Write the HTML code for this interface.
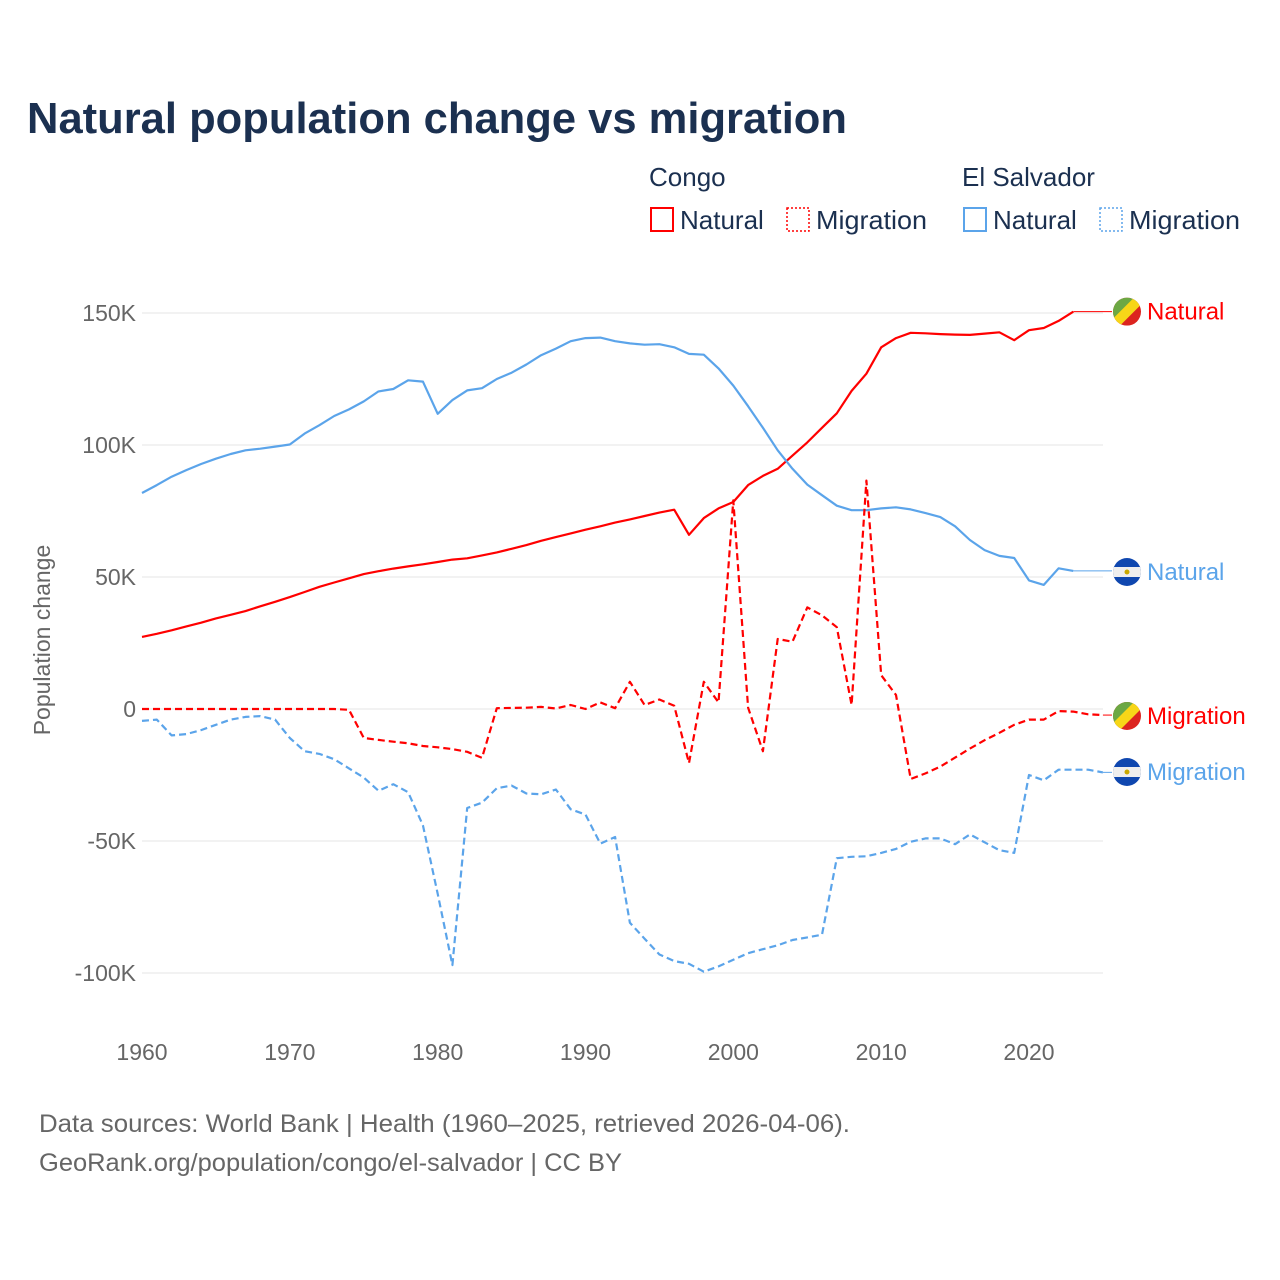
<!DOCTYPE html>
<html><head><meta charset="utf-8">
<style>
body{margin:0;background:#fff;font-family:"Liberation Sans",sans-serif;}
svg{display:block}
</style></head>
<body>
<svg id="chart" width="1280" height="1280" xmlns="http://www.w3.org/2000/svg">
<text x="27" y="133" font-size="44" font-weight="bold" fill="#1b3050" textLength="820" lengthAdjust="spacingAndGlyphs">Natural population change vs migration</text>
<g font-size="26" fill="#1b3050">
<text x="649" y="186">Congo</text>
<text x="962" y="186">El Salvador</text>
<g><rect x="651" y="208" width="22" height="23" fill="none" stroke="#ff0000" stroke-width="2"/><text x="680" y="229">Natural</text></g>
<g><rect x="787" y="208" width="22" height="23" fill="none" stroke="#ff0000" stroke-width="1.5" stroke-dasharray="2,2"/><text x="816" y="229" textLength="111" lengthAdjust="spacingAndGlyphs">Migration</text></g>
<g><rect x="964" y="208" width="22" height="23" fill="none" stroke="#5ba4ea" stroke-width="2"/><text x="993" y="229">Natural</text></g>
<g><rect x="1100" y="208" width="22" height="23" fill="none" stroke="#5ba4ea" stroke-width="1.5" stroke-dasharray="2,2"/><text x="1129" y="229" textLength="111" lengthAdjust="spacingAndGlyphs">Migration</text></g>
</g>
<g id="grid"></g>
<g id="yticks" font-size="23" fill="#666" text-anchor="end"></g>
<g id="xticks" font-size="23" fill="#666" text-anchor="middle"></g>
<text transform="translate(50,640) rotate(-90)" font-size="23" fill="#666" text-anchor="middle">Population change</text>
<g id="series"></g>
<g id="labels" font-size="24"></g>
<text x="39" y="1132" font-size="25" fill="#666" textLength="811" lengthAdjust="spacingAndGlyphs">Data sources: World Bank | Health (1960–2025, retrieved 2026-04-06).</text>
<text x="39" y="1171" font-size="25" fill="#666" textLength="583" lengthAdjust="spacingAndGlyphs">GeoRank.org/population/congo/el-salvador | CC BY</text>
</svg>
<script>
const startYear = 1960;
const congoNatural = [27.3,28.5,29.8,31.3,32.7,34.3,35.7,37.1,38.9,40.6,42.4,44.3,46.3,47.9,49.5,51.1,52.2,53.2,54.0,54.8,55.7,56.6,57.1,58.2,59.3,60.7,62.1,63.7,65.1,66.5,67.9,69.2,70.6,71.8,73.1,74.4,75.5,66.0,72.3,76.0,78.4,84.8,88.3,91.0,96.0,101,106.5,112,120.5,127,137,140.5,142.5,142.3,142,141.8,141.7,142.2,142.7,139.7,143.5,144.3,147,150.5];
const esNatural = [81.8,84.8,88,90.5,92.8,94.8,96.6,98.0,98.6,99.4,100.2,104.3,107.5,111,113.5,116.5,120.3,121.2,124.5,124,111.8,117,120.7,121.5,125,127.4,130.5,134,136.5,139.3,140.5,140.7,139.3,138.5,138,138.2,137,134.5,134.2,129,122.5,114.7,106.5,98,91,85,81,77,75.3,75.3,76,76.4,75.6,74.2,72.7,69.2,64,60.2,58,57.2,48.7,47,53.3,52.3];
const congoMigration = [0,0,0,0,0,0,0,0,0,0,0,0,0,0,-0.3,-11,-11.7,-12.4,-13,-14,-14.5,-15.2,-16.2,-18.5,0.3,0.4,0.5,0.8,0.2,1.5,0,2.5,0.3,10.3,1.5,3.6,1.2,-20.5,10.3,2.5,79,0.5,-16,26.5,25.5,38.5,35.5,31,1.5,86.5,12.8,5.3,-26.5,-24.4,-21.8,-18.4,-15,-11.8,-9,-6,-4,-4,-0.8,-1,-2,-2.3];
const esMigration = [-4.5,-4,-10,-9.5,-8,-6,-4,-3,-2.7,-4,-11,-16,-17,-19,-22.5,-26,-31,-28.5,-31.5,-44,-70,-97,-37.5,-35.5,-30,-29,-32,-32.3,-30.5,-38,-40,-51,-48.5,-81,-87,-93,-95.5,-96.5,-99.5,-97.5,-95,-92.5,-91,-89.5,-87.5,-86.5,-85.5,-56.5,-56,-55.8,-54.5,-53,-50.3,-49,-49,-51.2,-47.5,-50.5,-53.5,-54.5,-25,-27,-23,-23,-23,-24];
const yTicks = [150,100,50,0,-50,-100];
const yTickLabels = ["150K","100K","50K","0","-50K","-100K"];
const xTicks = [1960,1970,1980,1990,2000,2010,2020];

const NS = "http://www.w3.org/2000/svg";
const X = yr => 142 + (yr - 1960) * (1029 - 142) / 60;
const Y = v => 709 - v * 132 / 50;
function el(tag, attrs, parent){const e=document.createElementNS(NS,tag);for(const k in attrs)e.setAttribute(k,attrs[k]);parent.appendChild(e);return e;}

const grid=document.getElementById('grid'), yt=document.getElementById('yticks'), xt=document.getElementById('xticks');
yTicks.forEach((v,i)=>{
  const l=el('line',{x1:142,x2:1103,y1:Y(v),y2:Y(v),stroke:'#e6e6e6','stroke-width':1},grid);
  
  
  const t=el('text',{x:136,y:Y(v)+8},yt); t.textContent=yTickLabels[i];
  
  
});
xTicks.forEach(yr=>{
  const t=el('text',{x:X(yr),y:1060},xt); t.textContent=yr;
  
  
});

const series=document.getElementById('series');
function draw(data,color,dash,name){
  const pts=data.map((v,i)=>X(startYear+i).toFixed(1)+','+Y(v).toFixed(1)).join(' ');
  const p=el('polyline',{points:pts,fill:'none',stroke:color,'stroke-width':2.2,'stroke-linejoin':'round'},series);
  if(dash)p.setAttribute('stroke-dasharray',dash);
  
  
  const last=data[data.length-1], lx=X(startYear+data.length-1);
  const c=el('line',{x1:lx,x2:1112,y1:Y(last),y2:Y(last),stroke:color,'stroke-width':1},series);
  
  
  return Y(last);
}
const yCN=draw(congoNatural,'#ff0000',null,'line-congo-natural');
const yEN=draw(esNatural,'#5ba4ea',null,'line-es-natural');
const yCM=draw(congoMigration,'#ff0000','7,4','line-congo-migration');
const yEM=draw(esMigration,'#5ba4ea','7,4','line-es-migration');

const labels=document.getElementById('labels');
function flag(cy,type,name){
  const g=el('g',{},labels);
  
  
  const id='clip'+Math.round(cy);
  const cp=el('clipPath',{id:id},g); el('circle',{cx:1127,cy:cy,r:14},cp);
  const f=el('g',{'clip-path':'url(#'+id+')'},g);
  if(type==='cg'){
    el('rect',{x:1113,y:cy-14,width:28,height:28,fill:'#dc241f'},f);
    el('polygon',{points:`1113,${cy-14} 1141,${cy-14} 1113,${cy+14}`,fill:'#6ca844'},f);
    el('polygon',{points:`1134,${cy-14} 1141,${cy-14} 1141,${cy-7} 1120,${cy+14} 1113,${cy+14} 1113,${cy+7}`,fill:'#f7d618'},f);
  } else {
    el('rect',{x:1113,y:cy-14,width:28,height:28,fill:'#0f47af'},f);
    el('rect',{x:1113,y:cy-5,width:28,height:10,fill:'#eeeeee'},f);
    el('circle',{cx:1127,cy:cy,r:2.5,fill:'#c9a800'},f);
  }
}
function label(y,text,color,name){
  const t=el('text',{x:1147,y:y+8,fill:color},labels); t.textContent=text;
  
  
}
flag(yCN,'cg','flag-congo-natural'); label(yCN,'Natural','#ff0000','label-congo-natural');
flag(572,'es','flag-es-natural'); label(572,'Natural','#5ba4ea','label-es-natural');
flag(716,'cg','flag-congo-migration'); label(716,'Migration','#ff0000','label-congo-migration');
flag(772,'es','flag-es-migration'); label(772,'Migration','#5ba4ea','label-es-migration');
</script>
</body></html>
